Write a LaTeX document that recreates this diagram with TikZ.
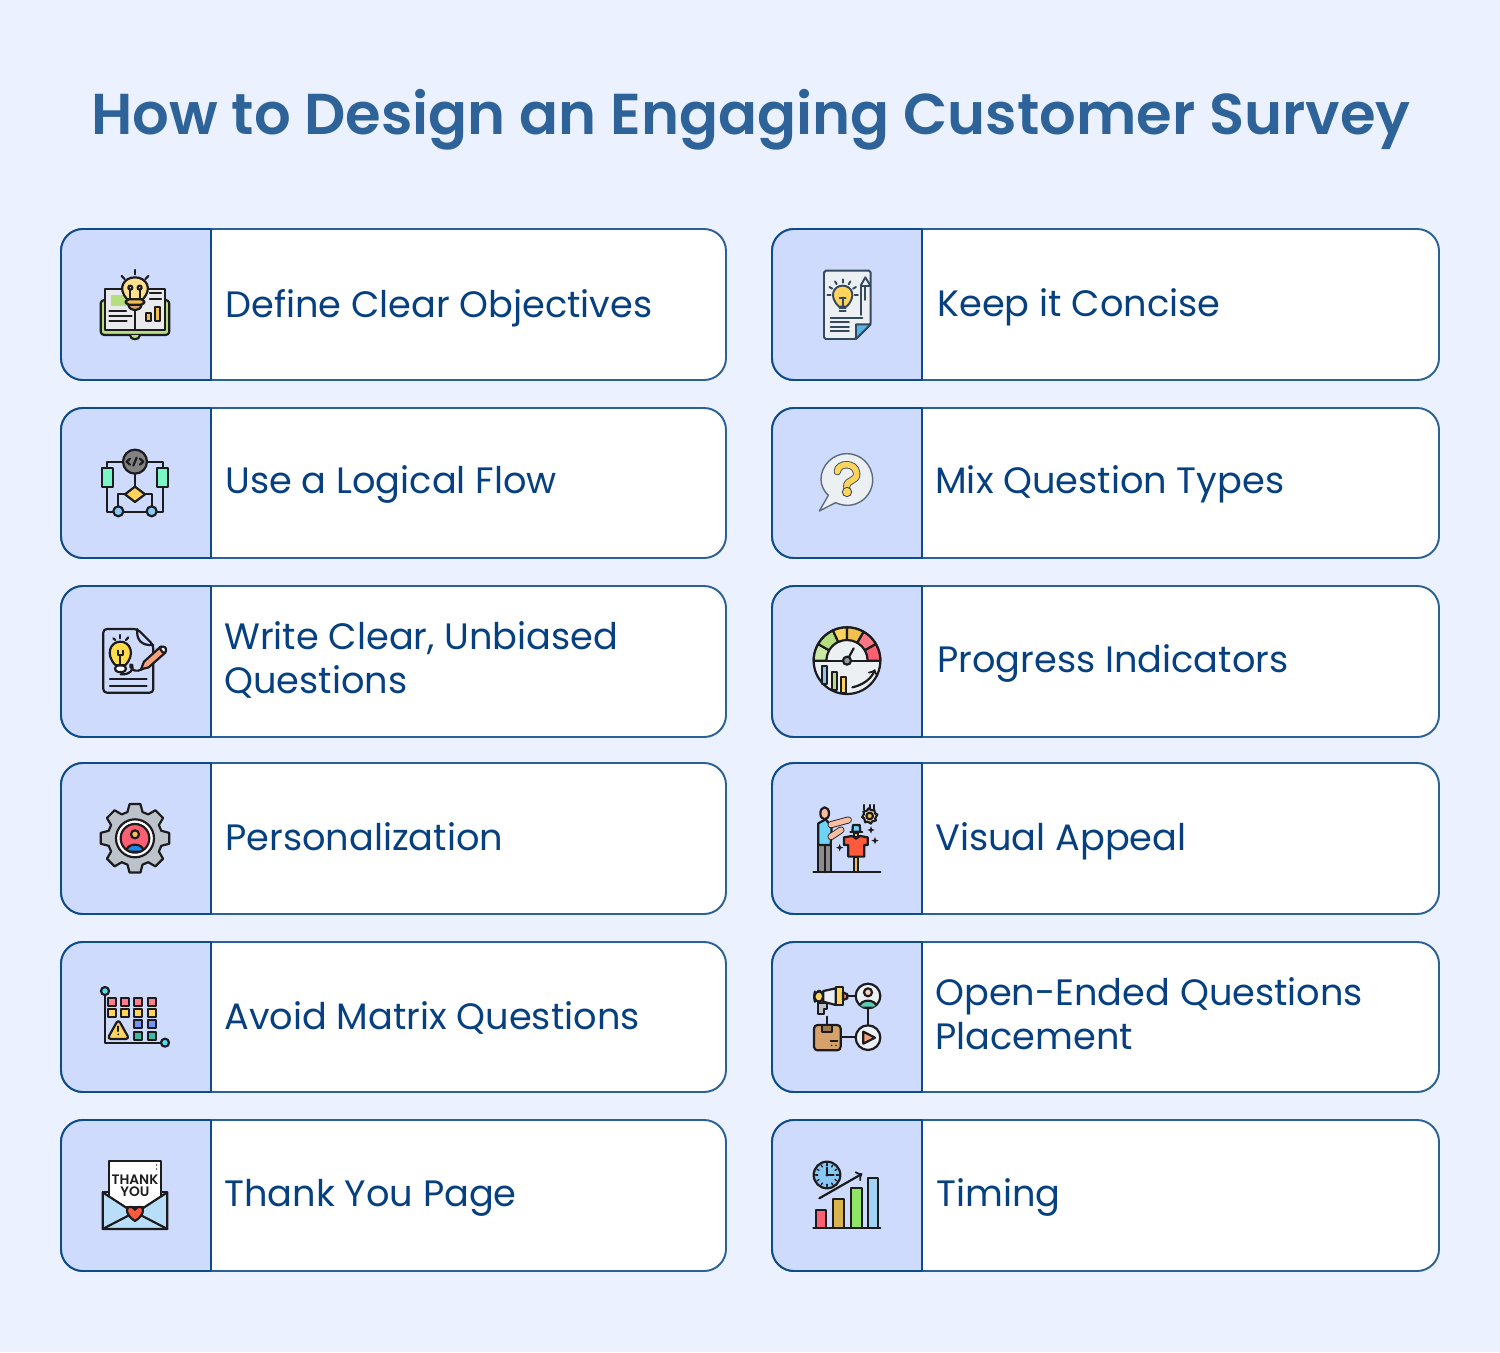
\documentclass[tikz,border=0pt]{standalone}
\usepackage{fontspec}
\newfontfamily\titlefont{Poppins SemiBold}
\newfontfamily\labelfont{Poppins}
\definecolor{pagebg}{HTML}{EBF1FF}
\definecolor{tilebg}{HTML}{CFDBFD}
\definecolor{cardedge}{HTML}{2A6197}
\definecolor{tileedge}{HTML}{0E4B8A}
\definecolor{titleblue}{HTML}{2E6399}
\definecolor{labelblue}{HTML}{064080}
\definecolor{iconink}{HTML}{1C1C1E}
\definecolor{slate}{HTML}{34495E}
\definecolor{leaf}{HTML}{B5DF7F}
\definecolor{paper}{HTML}{E8EAEC}
\definecolor{sun}{HTML}{FFD45C}
\definecolor{amber}{HTML}{F2C04E}
\definecolor{clay}{HTML}{D4A26A}
\definecolor{rose}{HTML}{FF5F72}
\definecolor{sky}{HTML}{89C8F5}
\definecolor{azure}{HTML}{1E88E5}
\definecolor{mint}{HTML}{7CF5C7}
\definecolor{steel}{HTML}{BDC3CB}
\definecolor{ember}{HTML}{FF5A3C}
\definecolor{peach}{HTML}{F7A27A}
\definecolor{mist}{HTML}{ECF0F3}
\tikzset{
  iconline/.style={draw=iconink,line width=1.25pt,line join=round,line cap=round},
  softline/.style={draw=slate,line width=1.1pt,line join=round,line cap=round},
  surveylabel/.style={anchor=base west,align=left,text=labelblue,inner sep=0pt,
    font=\labelfont\fontsize{20.9}{25}\selectfont},
  thankyou/.style={inner sep=0pt,text=iconink,font=\titlefont\fontsize{7.8}{9}\selectfont}
}
\begin{document}
\begin{tikzpicture}[x=0.02cm,y=-0.02cm]
  \def\tw{150}%width of icon tile
  \fill[pagebg] (0,0) rectangle (1500,1352);
  \useasboundingbox (0,0) rectangle (1500,1352);
  \node[anchor=base,inner sep=0pt,text=titleblue,font=\titlefont\fontsize{32.8}{38}\selectfont] (title) at (751,134) {How to Design an Engaging Customer Survey};
  \foreach \x/\cw in {61/665,772/667}{
    \foreach \y/\h in {229/151,408/150,586/151,763/151,942/150,1120/151}{
      \fill[white,rounded corners=12.5pt] (\x,\y) rectangle (\x+\cw,\y+\h);
      \draw[cardedge,line width=1.1pt,rounded corners=12.5pt] (\x,\y) rectangle (\x+\cw,\y+\h);
      \begin{scope}
        \clip (\x-2,\y-2) rectangle (\x+\tw,\y+\h+2);
        \filldraw[fill=tilebg,draw=tileedge,line width=1.1pt,rounded corners=12.5pt] (\x,\y) rectangle (\x+\cw,\y+\h);
      \end{scope}
      \draw[tileedge,line width=1.1pt] (\x+\tw,\y) -- (\x+\tw,\y+\h);
    }
  }
  \node[surveylabel] (objectives) at (225,317) {Define Clear Objectives};
  \node[surveylabel] (flow) at (225,493) {Use a Logical Flow};
  \node[surveylabel] (unbiased) at (224,693) {Write Clear, Unbiased\\Questions};
  \node[surveylabel] (personal) at (225,850) {Personalization};
  \node[surveylabel] (matrix) at (224,1029) {Avoid Matrix Questions};
  \node[surveylabel] (thanks) at (224,1206) {Thank You Page};
  \node[surveylabel] (concise) at (937,316) {Keep it Concise};
  \node[surveylabel] (types) at (935,493) {Mix Question Types};
  \node[surveylabel] (progress) at (937,672) {Progress Indicators};
  \node[surveylabel] (visual) at (935,850) {Visual Appeal};
  \node[surveylabel] (openended) at (935,1049) {Open-Ended Questions\\Placement};
  \node[surveylabel] (timing) at (936,1206) {Timing};
  % left column, rows 1 and 2
  \begin{scope}[shift={(50,220)},scale=0.3333]
    \filldraw[iconline,fill=leaf,rounded corners=2pt] (152,240) rectangle (358,345);
    \filldraw[iconline,fill=leaf] (240,345) .. controls (240,362) and (270,362) .. (270,345);
    \filldraw[iconline,fill=paper] (165,207) rectangle (345,330);
    \draw[iconline] (255,265) -- (255,330);
    \filldraw[iconline,fill=leaf,draw=none] (183,224) rectangle (240,258);
    \foreach \ya/\xb in {272/228,288/245,304/230}{\draw[iconline] (178,\ya) -- (\xb,\ya);}
    \foreach \ya in {220,236}{\draw[iconline] (300,\ya) -- (333,\ya);}
    \filldraw[iconline,fill=amber] (288,278) rectangle (302,304);
    \filldraw[iconline,fill=amber] (315,260) rectangle (330,304);
    \filldraw[iconline,fill=clay] (235,254) .. controls (238,276) and (272,276) .. (275,254) -- cycle;
    \filldraw[iconline,fill=sun!70!white] (232,238) .. controls (200,205) and (222,172) .. (255,172) .. controls (288,172) and (310,205) .. (278,238) -- cycle;
    \filldraw[iconline,fill=amber,rounded corners=2pt] (227,238) rectangle (283,254);
    \foreach \xa in {241,269}{
      \draw[iconline] (\xa,203) circle[radius=6];
      \draw[iconline] (\xa,209) -- (\xa,236);
    }
    \draw[iconline] (255,150) -- (255,163);
    \draw[iconline] (215,168) -- (224,177);
    \draw[iconline] (295,168) -- (286,177);
    % flow chart
    \draw[iconline] (219,725) -- (172,725) -- (172,875) -- (340,875) -- (340,725) -- (291,725);
    \draw[iconline] (255,761) -- (255,800);
    \draw[iconline] (225,823) -- (205,823) -- (205,860);
    \draw[iconline] (285,823) -- (305,823) -- (305,860);
    \filldraw[iconline,fill=iconink!55!white] (255,725) circle[radius=36];
    \draw[iconline] (240,716) -- (230,725) -- (240,734);
    \draw[iconline] (270,716) -- (280,725) -- (270,734);
    \draw[iconline] (260,713) -- (250,737);
    \filldraw[iconline,fill=mint] (155,745) rectangle (189,800);
    \filldraw[iconline,fill=mint] (322,745) rectangle (355,800);
    \filldraw[iconline,fill=sun] (255,800) -- (285,823) -- (255,846) -- (225,823) -- cycle;
    \foreach \xa in {205,305}{\filldraw[iconline,fill=sky] (\xa,874) circle[radius=15];}
  \end{scope}
  % left column, rows 3 and 4
  \begin{scope}[shift={(50,580)},scale=0.3333]
    \filldraw[iconline,fill=tilebg,rounded corners=2pt] (160,147) -- (262,147) -- (310,195) -- (310,338) -- (160,338) -- cycle;
    \draw[iconline] (262,147) .. controls (258,180) and (275,198) .. (310,195);
    \filldraw[iconline,fill=white,rounded corners=2pt] (195,256) rectangle (228,276);
    \filldraw[iconline,fill=sun!80!yellow] (197,256) .. controls (165,225) and (180,185) .. (211,185) .. controls (242,185) and (257,225) .. (225,256) -- cycle;
    \draw[iconline] (204,212) -- (204,225) -- (218,225) -- (218,212);
    \draw[iconline] (211,225) -- (211,256);
    \draw[iconline] (190,175) -- (196,180);
    \draw[iconline] (211,165) -- (211,175);
    \draw[iconline] (235,172) -- (228,180);
    \draw[iconline] (212,283) .. controls (240,285) and (252,268) .. (247,255) .. controls (238,245) and (235,275) .. (265,272) -- (280,266);
    \filldraw[iconline,fill=peach] (273,268) -- (282,245) -- (332,200) -- (346,218) -- (296,262) -- cycle;
    \filldraw[iconline,fill=white,rounded corners=1pt] (328,204) -- (340,197) -- (351,209) -- (342,222) -- cycle;
    \draw[iconline] (180,298) -- (290,298);
    \draw[iconline] (180,318) -- (290,318);
    % gear
    \begin{scope}[shift={(255,775)}]
      \filldraw[iconline,fill=steel] (-16:82) \foreach \a in {0,45,...,315}{
        -- ({\a-16}:82) -- ({\a-9}:104) -- ({\a+9}:104) -- ({\a+16}:82)} -- cycle;
      \filldraw[iconline,fill=white] (0,0) circle[radius=57];
      \begin{scope}
        \clip (0,0) circle[radius=43];
        \fill[rose] (0,0) circle[radius=43];
        \filldraw[iconline,fill=azure] (-26,40) .. controls (-26,12) and (26,12) .. (26,40) -- cycle;
      \end{scope}
      \draw[iconline] (0,0) circle[radius=43];
      \filldraw[iconline,fill=peach!70!yellow] (0,-12) circle[radius=12];
    \end{scope}
  \end{scope}
  % left column, rows 5 and 6
  \begin{scope}[shift={(50,935)},scale=0.3333]
    \draw[iconline] (165,168) -- (165,323) -- (345,323);
    \filldraw[iconline,fill=sky!60!cyan] (165,168) circle[radius=12];
    \filldraw[iconline,fill=sky!60!cyan] (345,323) circle[radius=12];
    \foreach \xa in {185,225,265,305}{
      \filldraw[iconline,fill=rose!80!white] (\xa-12,188) rectangle (\xa+12,212);
      \filldraw[iconline,fill=sun] (\xa-12,222) rectangle (\xa+12,246);
    }
    \foreach \xa in {265,305}{
      \filldraw[iconline,fill=sky!60!blue!80!white] (\xa-12,256) rectangle (\xa+12,280);
      \filldraw[iconline,fill=mint!50!teal] (\xa-12,290) rectangle (\xa+12,314);
    }
    \filldraw[iconline,fill=sun,rounded corners=2pt] (205,253) -- (238,312) -- (172,312) -- cycle;
    \draw[iconline] (205,274) -- (205,288);
    \fill[iconink] (205,298) circle[radius=3];
    % envelope
    \filldraw[iconline,fill=sky!60!white] (158,770) rectangle (352,882);
    \filldraw[iconline,fill=white] (178,677) rectangle (333,815);
    \node[thankyou] (thankword) at (255,733) {THANK};
    \node[thankyou] (youword) at (255,770) {YOU};
    \foreach \ya in {690,702}{\fill[iconink] (320,\ya) circle[radius=2.5];}
    \filldraw[iconline,fill=sky!60!white] (158,772) -- (255,835) -- (352,772) -- (352,882) -- (158,882) -- cycle;
    \draw[iconline] (158,882) -- (235,842);
    \draw[iconline] (352,882) -- (275,842);
    \filldraw[iconline,fill=ember] (255,858) .. controls (225,840) and (225,812) .. (245,816) .. controls (250,818) and (255,824) .. (255,824) .. controls (255,824) and (260,818) .. (265,816) .. controls (285,812) and (285,840) .. (255,858) -- cycle;
  \end{scope}
  % right column, rows 1 and 2
  \begin{scope}[shift={(765,220)},scale=0.3333]
    \filldraw[softline,fill=mist,rounded corners=1pt] (177,152) -- (317,152) -- (317,313) -- (273,357) -- (177,357) -- cycle;
    \filldraw[softline,fill=cyan!40!sky] (273,357) -- (273,313) -- (317,313) -- cycle;
    \filldraw[softline,fill=sun] (222,260) .. controls (190,230) and (205,197) .. (233,197) .. controls (261,197) and (276,230) .. (244,260) -- cycle;
    \draw[softline] (233,232) -- (233,260);
    \draw[softline] (224,234) -- (242,234);
    \foreach \ya in {264,274}{\draw[softline] (224,\ya) -- (242,\ya);}
    \foreach \a in {0,30,...,180}{
      \draw[softline] ({233+36*cos(\a)},{224-36*sin(\a)}) -- ({233+46*cos(\a)},{224-46*sin(\a)});
    }
    \draw[softline] (288,285) -- (288,195) -- (301,172) -- (315,195);
    \draw[softline] (288,198) -- (315,198);
    \draw[softline] (301,198) -- (301,240);
    \draw[softline] (197,293) -- (292,293);
    \foreach \ya in {307,320,334}{\draw[softline] (197,\ya) -- (252,\ya);}
    % speech bubble
    \filldraw[softline,line width=0.8pt,draw=slate!80!white,fill=mist] (190,826) -- (163,873) -- (212,848) .. controls (270,875) and (325,830) .. (323,778) .. controls (321,730) and (285,701) .. (245,701) .. controls (205,701) and (168,735) .. (168,778) .. controls (168,798) and (178,815) .. (190,826) -- cycle;
    \draw[slate,line width=4.2pt,line cap=round] (217,755) .. controls (218,728) and (272,725) .. (275,760) .. controls (277,785) and (245,778) .. (245,800);
    \draw[sun,line width=3.2pt,line cap=round] (217,755) .. controls (218,728) and (272,725) .. (275,760) .. controls (277,785) and (245,778) .. (245,800);
    \filldraw[softline,line width=0.5pt,fill=sun] (246,816) circle[radius=14];
  \end{scope}
  % right column, rows 3 and 4
  \begin{scope}[shift={(765,580)},scale=0.3333]
    \filldraw[iconline,fill=mist] (246,242) circle[radius=100];
    \begin{scope}[shift={(246,242)},yscale=-1]
      \foreach \a/\b/\c in {180/150/leaf!70!white,150/115/leaf,115/90/sun,90/60/amber,60/30/rose!85!white,30/0/rose}{
        \filldraw[iconline,fill=\c] (\a:100) arc[start angle=\a,end angle=\b,radius=100] -- (\b:62) arc[start angle=\b,end angle=\a,radius=62] -- cycle;
      }
    \end{scope}
    \draw[iconline] (146,242) -- (346,242);
    \filldraw[iconline,fill=sky] (170,258) rectangle (187,312);
    \filldraw[iconline,fill=leaf] (200,276) rectangle (215,330);
    \filldraw[iconline,fill=sun] (227,290) rectangle (242,340);
    \draw[iconline] (246,242) -- (266,205);
    \filldraw[iconline,fill=steel!80!black] (246,242) circle[radius=12];
    \draw[iconline,->] (262,322) .. controls (295,315) and (320,295) .. (330,268);
    % figure with scarecrow
    \draw[iconline] (145,877) -- (346,877);
    \filldraw[iconline,fill=iconink!50!white] (160,795) rectangle (197,877);
    \draw[iconline] (180,795) -- (180,877);
    \filldraw[iconline,fill=sky!80!cyan] (160,730) -- (182,718) -- (200,740) -- (197,795) -- (160,795) -- cycle;
    \filldraw[iconline,fill=peach!70!white] (179,700) ellipse[x radius=13,y radius=18];
    \draw[iconink,line width=4pt,line cap=round] (198,734) -- (250,720);
    \draw[peach!70!white,line width=3pt,line cap=round] (198,734) -- (250,720);
    \draw[iconink,line width=4pt,line cap=round] (198,770) -- (228,750);
    \draw[peach!70!white,line width=3pt,line cap=round] (198,770) -- (228,750);
    \filldraw[iconline,fill=amber] (268,830) rectangle (278,877);
    \filldraw[iconline,fill=amber] (268,758) rectangle (278,772);
    \filldraw[iconline,fill=ember] (237,772) -- (262,768) -- (273,776) -- (285,768) -- (308,772) -- (308,795) -- (298,795) -- (298,830) -- (250,830) -- (250,795) -- (237,795) -- cycle;
    \filldraw[iconline,fill=sky!80!cyan] (262,755) -- (264,735) -- (284,735) -- (286,755) -- cycle;
    \draw[iconline] (256,757) -- (292,757);
    \foreach \xa in {298,314,328}{\draw[iconline] (\xa,675) -- (\xa,688);}
    \begin{scope}[shift={(314,708)}]
      \filldraw[iconline,fill=sun!40!white] (-12:23) \foreach \a in {0,45,...,315}{
        -- ({\a-10}:23) -- ({\a+22.5}:18)} -- cycle;
      \filldraw[iconline,fill=amber] (0,0) circle[radius=10];
    \end{scope}
    \foreach \xa/\ya in {224/803,318/750,330/782}{
      \fill[iconink,shift={(\xa,\ya)}] (0,-11) -- (3,-3) -- (11,0) -- (3,3) -- (0,11) -- (-3,3) -- (-11,0) -- (-3,-3) -- cycle;
    }
  \end{scope}
  % right column, rows 5 and 6
  \begin{scope}[shift={(765,935)},scale=0.3333]
    \draw[iconline] (187,245) -- (187,270);
    \draw[iconline] (227,305) -- (272,305);
    \draw[iconline] (309,220) -- (309,270);
    \draw[iconline] (247,183) -- (272,183);
    \filldraw[iconline,fill=mist] (309,183) circle[radius=37];
    \begin{scope}
      \clip (309,183) circle[radius=37];
      \filldraw[iconline,fill=mint!60!teal!90!white] (283,218) .. controls (283,190) and (335,190) .. (335,218) -- cycle;
    \end{scope}
    \filldraw[iconline,fill=peach!50!white] (309,172) circle[radius=12];
    \filldraw[iconline,fill=mist] (309,308) circle[radius=37];
    \filldraw[iconline,fill=peach] (295,290) -- (330,308) -- (295,326) -- cycle;
    \filldraw[iconline,fill=clay,rounded corners=2pt] (147,270) rectangle (227,346);
    \filldraw[iconline,fill=clay!75!black] (172,270) rectangle (200,292);
    \draw[iconline] (197,318) -- (217,318);
    \foreach \xa in {200,213}{\fill[iconink] (\xa,331) circle[radius=2.5];}
    \filldraw[iconline,fill=steel] (160,205) -- (187,205) -- (187,222) -- (178,222) -- (178,236) -- (160,236) -- cycle;
    \filldraw[iconline,fill=sun,rounded corners=3pt] (175,168) -- (150,168) -- (147,185) -- (150,202) -- (175,200) -- cycle;
    \filldraw[iconline,fill=mist] (175,168) -- (212,160) -- (212,210) -- (175,200) -- cycle;
    \filldraw[iconline,fill=sun] (212,155) rectangle (234,210);
    \filldraw[iconline,fill=peach!70!red] (234,172) -- (247,178) -- (247,190) -- (234,195) -- cycle;
    % clock and bars
    \filldraw[iconline,fill=sky] (186,720) circle[radius=40];
    \foreach \a in {0,30,...,330}{
      \draw[iconline,line width=0.8pt] ({186+28*cos(\a)},{720+28*sin(\a)}) -- ({186+34*cos(\a)},{720+34*sin(\a)});
    }
    \draw[iconline] (186,720) -- (186,698);
    \draw[iconline] (186,720) -- (206,720);
    \fill[iconink] (186,720) circle[radius=5];
    \draw[iconline,->] (163,790) -- (292,716);
    \filldraw[iconline,fill=rose] (152,825) rectangle (184,878);
    \filldraw[iconline,fill=sun!85!black] (205,792) rectangle (237,878);
    \filldraw[iconline,fill=leaf!80!green] (258,760) rectangle (290,878);
    \filldraw[iconline,fill=sky!80!white] (308,730) rectangle (340,878);
    \draw[iconline] (145,878) -- (346,878);
  \end{scope}
\end{tikzpicture}
\end{document}
